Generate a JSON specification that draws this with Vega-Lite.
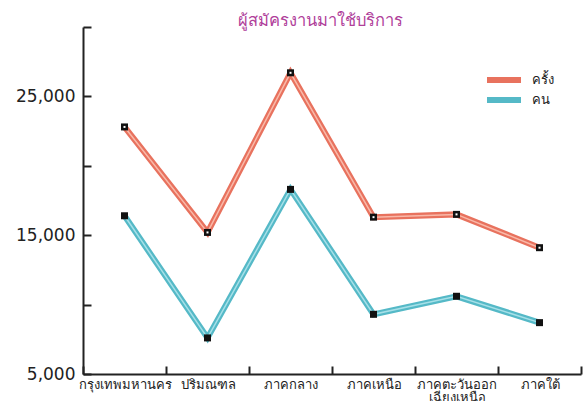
{
  "$schema": "https://vega.github.io/schema/vega-lite/v6.json",
  "width": 498,
  "height": 347,
  "autosize": {"type": "none"},
  "padding": {"left": 83, "top": 27, "right": 7, "bottom": 27},
  "background": "white",
  "title": {"text": "ผู้สมัครงานมาใช้บริการ", "color": "#b0409a", "fontSize": 16.5, "fontWeight": "normal", "anchor": "middle", "offset": -3, "dx": -12},
  "config": {
    "view": {"stroke": null},
    "axis": {"domainColor": "#222", "domainWidth": 2, "tickColor": "#222", "tickWidth": 2, "grid": false, "labelColor": "#222"}
  },
  "data": {
    "values": [
      {"region": "กรุงเทพมหานคร", "series": "ครั้ง", "value": 22800},
      {"region": "ปริมณฑล", "series": "ครั้ง", "value": 15200},
      {"region": "ภาคกลาง", "series": "ครั้ง", "value": 26700},
      {"region": "ภาคเหนือ", "series": "ครั้ง", "value": 16300},
      {"region": "ภาคตะวันออกเฉียงเหนือ", "series": "ครั้ง", "value": 16500},
      {"region": "ภาคใต้", "series": "ครั้ง", "value": 14100},
      {"region": "กรุงเทพมหานคร", "series": "คน", "value": 16400},
      {"region": "ปริมณฑล", "series": "คน", "value": 7600},
      {"region": "ภาคกลาง", "series": "คน", "value": 18300},
      {"region": "ภาคเหนือ", "series": "คน", "value": 9300},
      {"region": "ภาคตะวันออกเฉียงเหนือ", "series": "คน", "value": 10600},
      {"region": "ภาคใต้", "series": "คน", "value": 8700}
    ]
  },
  "encoding": {
    "x": {
      "field": "region", "type": "nominal", "sort": null,
      "scale": {"type": "band", "paddingInner": 0, "paddingOuter": 0},
      "axis": {"title": null, "labelAngle": 0, "tickBand": "extent", "tickSize": -8, "labelPadding": 12, "labelFontSize": 13, "labelLineHeight": 13,
        "labelExpr": "datum.value == 'ภาคตะวันออกเฉียงเหนือ' ? ['ภาคตะวันออก', 'เฉียงเหนือ'] : datum.label"}
    },
    "y": {
      "field": "value", "type": "quantitative",
      "scale": {"domain": [5000, 30000], "nice": false, "zero": false},
      "axis": {"title": null, "values": [5000, 10000, 15000, 20000, 25000, 30000], "format": ",.0f", "tickSize": -8, "labelPadding": 16, "labelFontSize": 17, "labelFont": "DejaVu Sans",
        "labelExpr": "datum.value % 10000 == 5000 ? datum.label : ''"}
    }
  },
  "layer": [
    {
      "mark": {"type": "line", "strokeWidth": 6},
      "encoding": {
        "color": {"field": "series", "type": "nominal",
          "scale": {"domain": ["ครั้ง", "คน"], "range": ["#e8725e", "#55b9c7"]},
          "legend": {"title": null, "orient": "none", "padding": 0, "legendX": 413, "legendY": 45, "symbolType": "M-3.4,0H3.4", "symbolSize": 100, "symbolStrokeWidth": 6, "labelFontSize": 13, "labelColor": "#222", "rowPadding": -7, "labelOffset": 20}}
      }
    },
    {
      "transform": [{"filter": "datum.series == 'ครั้ง'"}],
      "mark": {"type": "line", "strokeWidth": 1.5, "color": "#f9b9a9"},
      "encoding": {}
    },
    {
      "transform": [{"filter": "datum.series == 'คน'"}],
      "mark": {"type": "line", "strokeWidth": 1.5, "color": "#a6e0e8"},
      "encoding": {}
    },
    {
      "mark": {"type": "point", "shape": "square", "filled": true, "color": "#111", "size": 49, "opacity": 1},
      "encoding": {"detail": {"field": "series"}}
    },
    {
      "transform": [{"filter": "datum.series == 'ครั้ง'"}],
      "mark": {"type": "point", "shape": "square", "filled": true, "color": "white", "size": 4, "opacity": 1},
      "encoding": {}
    }
  ]
}
